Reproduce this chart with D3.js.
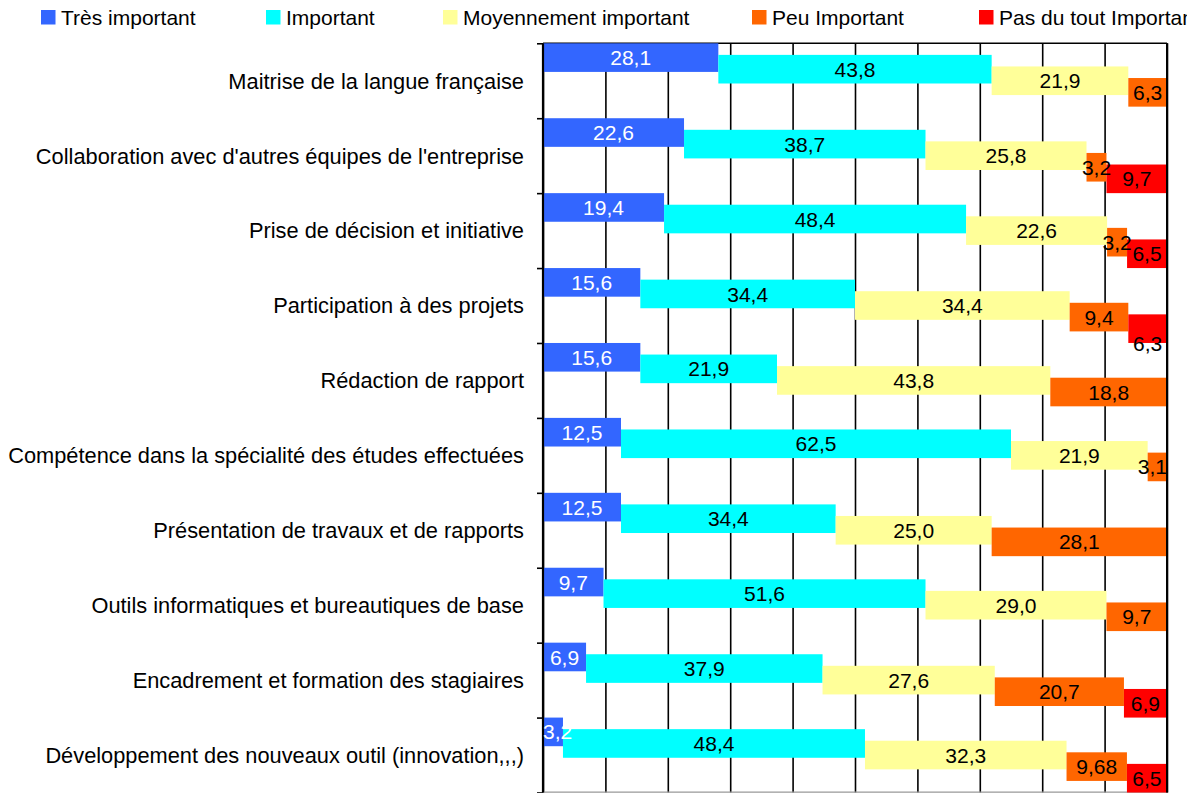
<!DOCTYPE html>
<html>
<head>
<meta charset="utf-8">
<script src="https://cdn.jsdelivr.net/npm/d3@7"></script>
<style>
  html, body { margin: 0; padding: 0; background: #fff; }
  svg { display: block; }
  text { font-family: "Liberation Sans", Arial, sans-serif; }
</style>
</head>
<body>
<svg id="chart" width="1187" height="793"></svg>
<script>
// ---------- DATA ----------
const categories = [
  "Maitrise de la langue française",
  "Collaboration avec d'autres équipes de l'entreprise",
  "Prise de décision et initiative",
  "Participation à des projets",
  "Rédaction de rapport",
  "Compétence dans la spécialité des études effectuées",
  "Présentation de travaux et de rapports",
  "Outils informatiques et bureautiques de base",
  "Encadrement et formation des stagiaires",
  "Développement des nouveaux outil (innovation,,,)"
];
const seriesNames = ["Très important", "Important", "Moyennement important", "Peu Important", "Pas du tout Important"];
const tresImportant = [28.1, 22.6, 19.4, 15.6, 15.6, 12.5, 12.5, 9.7, 6.9, 3.2];
const important     = [43.8, 38.7, 48.4, 34.4, 21.9, 62.5, 34.4, 51.6, 37.9, 48.4];
const moyennement   = [21.9, 25.8, 22.6, 34.4, 43.8, 21.9, 25.0, 29.0, 27.6, 32.3];
const peuImportant  = [6.3, 3.2, 3.2, 9.4, 18.8, 3.1, 28.1, 9.7, 20.7, 9.68];
const pasDuTout     = [0, 9.7, 6.5, 6.3, 0, 0, 0, 0, 6.9, 6.5];
const xTicks = [0, 10, 20, 30, 40, 50, 60, 70, 80, 90, 100];

// ---------- STYLE / LAYOUT ----------
const seriesValues = [tresImportant, important, moyennement, peuImportant, pasDuTout];
const colors = ["#3366FF", "#00FFFF", "#FFFF99", "#FF6600", "#FF0000"];
const labelColors = ["#FFFFFF", "#000000", "#000000", "#000000", "#000000"];
const legendX = [41, 266, 443, 752, 979];
const plotLeft = 543, plotRight = 1167, plotTop = 43.3, plotBottom = 792.5;
const fontSize = 21;
const catFontSize = 21.8;

const svg = d3.select("#chart");

const x = d3.scaleLinear().domain([0, 100]).range([plotLeft, plotRight]);
const y = d3.scaleBand().domain(categories).range([plotTop, plotBottom]).padding(0);
const bw = y.bandwidth();
const step = bw * 0.1545;
const barH = bw * 0.382;

// grid (vertical lines)
const grid = svg.append("g")
  .attr("transform", `translate(0,${plotTop})`)
  .call(d3.axisBottom(x).tickValues(xTicks).tickSize(plotBottom - plotTop).tickFormat(""));
grid.select(".domain").remove();
grid.selectAll(".tick line").attr("stroke", "#000").attr("stroke-width", 1.6);

// frame top / bottom
svg.append("line").attr("x1", plotLeft).attr("x2", plotRight).attr("y1", plotTop).attr("y2", plotTop)
  .attr("stroke", "#000").attr("stroke-width", 1.6);
svg.append("line").attr("x1", plotLeft).attr("x2", plotRight).attr("y1", 792.2).attr("y2", 792.2)
  .attr("stroke", "#999").attr("stroke-width", 1.2);

// build stacked rows
const rows = categories.map((c, ci) => {
  let cum = 0;
  return seriesValues.map((arr, si) => {
    const v = arr[ci];
    const seg = { cat: c, si, v, x0: cum, x1: cum + v };
    cum += v;
    return seg;
  });
});
const segs = rows.flat().filter(d => d.v > 0);

svg.append("clipPath").attr("id", "plotclip")
  .append("rect").attr("x", plotLeft).attr("y", 0).attr("width", plotRight - plotLeft).attr("height", 793);

// bars
svg.append("g").attr("clip-path", "url(#plotclip)")
  .selectAll("rect").data(segs).join("rect")
  .attr("x", d => x(d.x0))
  .attr("width", d => Math.max(0, x(Math.min(d.x1, 100.2)) - x(d.x0)))
  .attr("y", d => y(d.cat) + d.si * step)
  .attr("height", barH)
  .attr("fill", d => colors[d.si]);

// left axis with ticks at band boundaries
const yEdges = d3.scaleLinear().domain([0, categories.length]).range([plotTop, plotBottom]);
const yAxis = svg.append("g").attr("transform", `translate(${plotLeft},0)`)
  .call(d3.axisLeft(yEdges).ticks(categories.length).tickSize(6).tickFormat(""));
yAxis.select(".domain").attr("stroke", "#000").attr("stroke-width", 2.2)
  .attr("d", `M0,${plotTop}V${plotBottom}`);
yAxis.selectAll(".tick line").attr("stroke", "#000").attr("stroke-width", 1.6);

// right border
svg.append("line").attr("x1", plotRight).attr("x2", plotRight).attr("y1", plotTop).attr("y2", plotBottom)
  .attr("stroke", "#000").attr("stroke-width", 2);

// category labels
svg.append("g").selectAll("text").data(categories).join("text")
  .attr("x", 524)
  .attr("y", d => y(d) + bw / 2)
  .attr("dy", "0.36em")
  .attr("text-anchor", "end")
  .attr("font-size", catFontSize)
  .attr("fill", "#000")
  .text(d => d);

// value labels
const fmt = v => (Math.round(v * 10) / 10 === v ? v.toFixed(1) : String(v)).replace(".", ",");
const belowLabel = d => d.cat === "Participation à des projets" && d.si === 4;
const lbls = svg.append("g").selectAll("text").data(segs).join("text")
  .attr("text-anchor", "middle")
  .attr("font-size", fontSize)
  .attr("fill", d => labelColors[d.si])
  .attr("y", d => y(d.cat) + d.si * step + (belowLabel(d) ? barH : barH / 2))
  .attr("dy", "0.36em")
  .text(d => fmt(d.v));
lbls.each(function(d) {
  const w = this.getComputedTextLength();
  let cx = (x(d.x0) + x(Math.min(d.x1, 100))) / 2;
  cx = Math.max(plotLeft + w / 2, Math.min(plotRight - w / 2, cx));
  d3.select(this).attr("x", cx);
});

// legend
const leg = svg.append("g").selectAll("g").data(seriesNames).join("g")
  .attr("transform", (d, i) => `translate(${legendX[i]},10)`);
leg.append("rect").attr("width", 14.5).attr("height", 14.5).attr("fill", (d, i) => colors[i]);
leg.append("text").attr("x", 20).attr("y", 7.5).attr("dy", "0.36em")
  .attr("font-size", fontSize).attr("fill", "#000").text(d => d);
</script>
</body>
</html>
